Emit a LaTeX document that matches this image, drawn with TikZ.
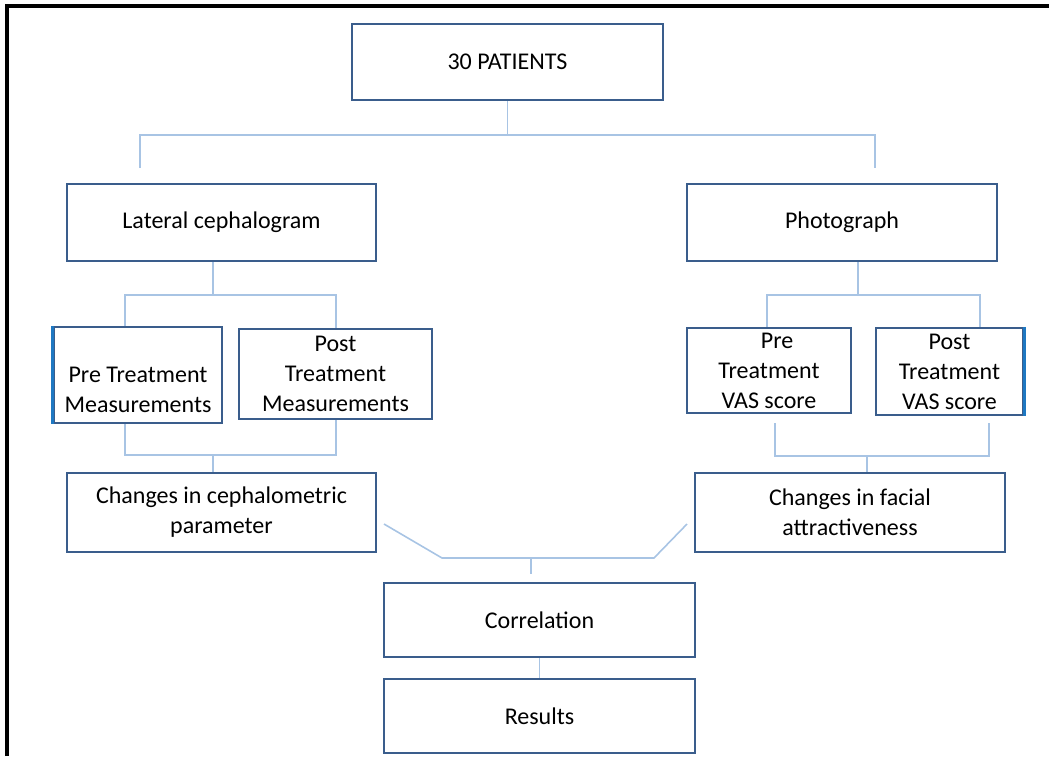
\documentclass[tikz,border=0pt]{standalone}
\usepackage{fontspec}
\setmainfont{Carlito}
\definecolor{boxblue}{HTML}{3A5D8C}
\definecolor{linkblue}{HTML}{A8C4E4}
\definecolor{edgeblue}{HTML}{1E78C2}
\tikzset{every picture/.style={line width=0.75pt}}
\tikzset{
  box/.style={draw=boxblue,line width=2.4pt,align=center,inner sep=0pt,font=\fontsize{24}{30}\selectfont},
  link/.style={draw=linkblue,line width=1.6pt},
  edge/.style={draw=edgeblue,line width=3pt}
}
\begin{document}
\begin{tikzpicture}[x=1pt,y=-1pt]
				\useasboundingbox (0,0) rectangle (1049,756);
				\draw[line width=3.2pt] (7,756)--(7,6)--(1049,6); %枠
				\node[box,minimum width=311pt,minimum height=76pt] (pat) at (507.5,62) {30 PATIENTS};
				\node[box,minimum width=309pt,minimum height=77pt] (lat) at (221.5,222.5) {Lateral cephalogram};
				\node[box,minimum width=310pt,minimum height=77pt] (photo) at (842,222.5) {Photograph};
				\node[box,minimum width=168pt,minimum height=96pt] (pre) at (138,375) {\rule{0pt}{16pt}\\Pre Treatment\\Measurements};
				\node[box,minimum width=193pt,minimum height=90pt] (post) at (335.5,374) {Post\\Treatment\\Measurements};
				\node[box,minimum width=164pt,minimum height=85pt] (prevas) at (769,370.5) {\ \ \ Pre\\Treatment\\VAS score};
				\node[box,minimum width=147pt,minimum height=87pt] (postvas) at (949.5,371.5) {Post\\Treatment\\VAS score};
				\node[box,minimum width=309pt,minimum height=79pt] (ceph) at (221.5,512.5) {Changes in cephalometric\\parameter};
				\node[box,minimum width=310pt,minimum height=79pt] (fac) at (850,512.5) {Changes in facial\\attractiveness};
				\node[box,minimum width=311pt,minimum height=74pt] (corr) at (539.5,620) {Correlation};
				\node[box,minimum width=311pt,minimum height=74pt] (res) at (539.5,716) {Results};
				\draw[edge] (pre.north west)--(pre.south west); %左の線
				\draw[edge] (postvas.north east)--(postvas.south east); %右の線
				% 上段
				\coordinate (tl) at (140,135);
				\coordinate (tr) at (875,135);
				\draw[link] (pat.south)--(pat.south |- tl);
				\draw[link] (tl) ++(0,33)--(tl)--(tr)--++(0,33);
				% 左
				\coordinate (lj) at (213,295);
				\coordinate (la) at (125,295);
				\coordinate (lb) at (336,295);
				\draw[link] (lat.south -| lj)--(lj);
				\draw[link] (pre.north -| la)--(la)--(lb)--(post.north -| lb);
				\coordinate (lc) at (125,455);
				\coordinate (ld) at (336,455);
				\coordinate (le) at (213,455);
				\draw[link] (pre.south -| lc)--(lc)--(ld)--(post.south -| ld);
				\draw[link] (le)--(ceph.north -| le);
				% 右
				\coordinate (rj) at (858,295);
				\coordinate (ra) at (767,295);
				\coordinate (rb) at (980,295);
				\draw[link] (photo.south -| rj)--(rj);
				\draw[link] (prevas.north -| ra)--(ra)--(rb)--(postvas.north -| rb);
				\coordinate (rc) at (775,456);
				\coordinate (rd) at (989,456);
				\coordinate (re) at (867,456);
				\draw[link] (rc) ++(0,-33)--(rc)--(rd)--++(0,-33);
				\draw[link] (re)--(fac.north -| re);
				% 下段
				\coordinate (ba) at (384,524);
				\coordinate (bb) at (687,524);
				\coordinate (bl) at (442,558);
				\coordinate (br) at (654,558);
				\coordinate (bm) at (531,558);
				\draw[link] (ba)--(bl)--(br)--(bb);
				\draw[link] (bm)--++(0,16);
				\draw[link] (corr)--(res);
			\end{tikzpicture}
\end{document}
